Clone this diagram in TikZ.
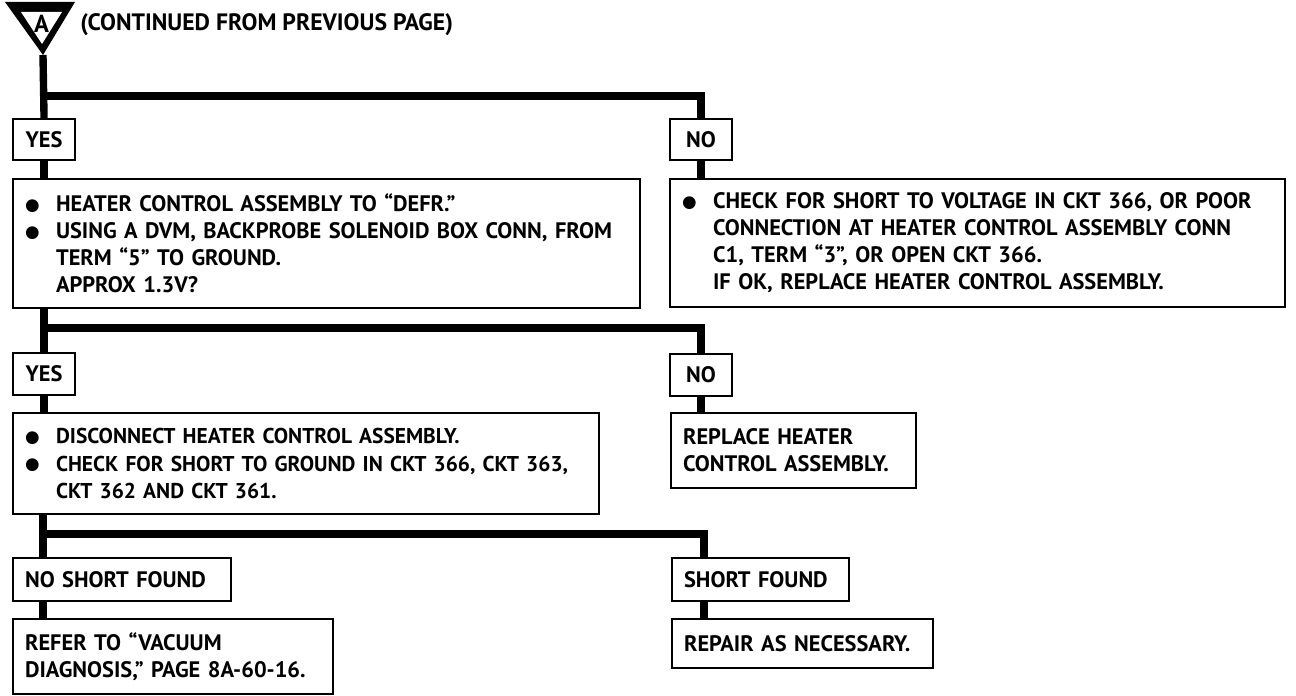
\documentclass[tikz,border=0pt]{standalone}
\usepackage{fontspec}
\setmainfont{PT Sans}
\newfontfamily\symfont{DejaVu Sans}
\usepackage{tikz}
\usetikzlibrary{calc}

\newlength{\bulw}
\setlength{\bulw}{0.62cm}
\newcommand{\bul}{\makebox[\bulw][l]{\raisebox{0.15ex}{\symfont\fontsize{9.5}{9.5}\selectfont ●}}}
\newcommand{\ind}{\hspace*{\bulw}}

\begin{document}
\begin{tikzpicture}[x=0.02cm, y=-0.02cm, line join=miter,
  font=\fontsize{12.75}{15.4}\selectfont\bfseries,
  box/.style={draw, line width=1.2pt, anchor=north west,
    inner xsep=0.24cm, inner ysep=0pt, align=left},
  flow/.style={line width=4.2pt}]

  \useasboundingbox (0,0) rectangle (1296,696);

  % ===== 記号 A =====
  \coordinate (apex) at (43,55);
  \fill (5,2) -- (75,2) -- (apex) -- cycle;
  \fill[white] (21,12) -- (62,12) -- (42,44) -- cycle;
  \node[inner sep=0pt, font=\fontsize{14}{14}\selectfont\bfseries] (mA) at (41.5,24) {A};
  \node[anchor=west, inner sep=0pt, font=\fontsize{13.5}{15}\selectfont\bfseries] (title) at (80,25)
  {(CONTINUED FROM PREVIOUS PAGE)};

  % ===== 第1段 =====
  \node[box, minimum width=1.24cm, minimum height=0.82cm] (yesA) at (12,118) {YES};
  \node[box, minimum width=1.24cm, minimum height=0.82cm] (noA) at (669,118) {NO};
  \node[box, text width=12.06cm, minimum height=2.58cm] (chkA) at (12,178)
  {\bul HEATER CONTROL ASSEMBLY TO “DEFR.”\\
   \bul USING A DVM, BACKPROBE SOLENOID BOX CONN, FROM\\
   \ind TERM “5” TO GROUND.\\
   \ind APPROX 1.3V?};
  \node[box, text width=11.82cm, minimum height=2.56cm] (chkB) at (669,178)
  {\bul CHECK FOR SHORT TO VOLTAGE IN CKT 366, OR POOR\\
   \ind CONNECTION AT HEATER CONTROL ASSEMBLY CONN\\
   \ind C1, TERM “3”, OR OPEN CKT 366.\\
   \ind IF OK, REPLACE HEATER CONTROL ASSEMBLY.};

  % ===== 第2段 =====
  \node[box, minimum width=1.24cm, minimum height=0.84cm] (yesB) at (12,352) {YES};
  \node[box, minimum width=1.24cm, minimum height=0.84cm] (noB) at (669,353) {NO};
  \node[box, text width=11.24cm, minimum height=2.02cm,
    font=\fontsize{12.2}{15.4}\selectfont\bfseries] (discB) at (12,412)
  {\bul DISCONNECT HEATER CONTROL ASSEMBLY.\\
   \bul CHECK FOR SHORT TO GROUND IN CKT 366, CKT 363,\\
   \ind CKT 362 AND CKT 361.};
  \node[box, text width=4.42cm, minimum height=1.5cm] (replB) at (670,412)
  {REPLACE HEATER\\CONTROL ASSEMBLY.};

  % ===== 第3段 =====
  \node[box, text width=3.88cm, minimum height=0.86cm] (noShort) at (12,557) {NO SHORT FOUND};
  \node[box, text width=3.06cm, minimum height=0.86cm] (shortF) at (671,557) {SHORT FOUND};
  \node[box, text width=5.92cm, minimum height=1.5cm] (refer) at (12,618)
  {REFER TO “VACUUM\\DIAGNOSIS,” PAGE 8A-60-16.};
  \node[box, text width=4.74cm, minimum height=0.98cm] (repair) at (671,618)
  {REPAIR AS NECESSARY.};

  % ===== 分岐線 =====
  \coordinate (jA) at (43,96);
  \coordinate (jB) at (43,328);
  \coordinate (jC) at (43,534);
  \coordinate (kC) at (704,534);

  \draw[flow] (apex) -- (yesA.north);
  \draw[flow] (jA) -| (noA.north);
  \draw[flow] (yesA.south) -- (yesA.south |- chkA.north);
  \draw[flow] (noA.south) -- (noA.south |- chkB.north);

  \draw[flow] (chkA.south -| yesB.north) -- (yesB.north);
  \draw[flow] (jB) -| (noB.north);
  \draw[flow] (yesB.south) -- (yesB.south |- discB.north);
  \draw[flow] (noB.south) -- (noB.south |- replB.north);

  \draw[flow] (jC |- discB.south) -- (jC |- noShort.north);
  \draw[flow] (jC) -- (kC) -- (kC |- shortF.north);
  \draw[flow] (jC |- noShort.south) -- (jC |- refer.north);
  \draw[flow] (kC |- shortF.south) -- (kC |- repair.north);

\end{tikzpicture}
\end{document}
